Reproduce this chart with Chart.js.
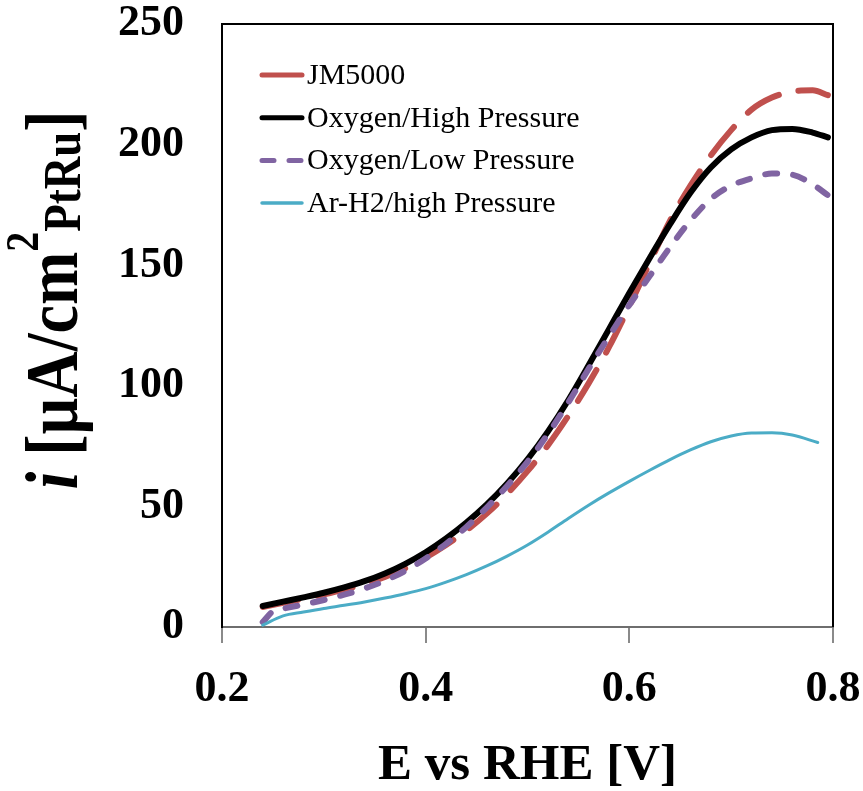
<!DOCTYPE html>
<html>
<head>
<meta charset="utf-8">
<script src="https://cdn.jsdelivr.net/npm/chart.js@4.4.1/dist/chart.umd.min.js"></script>
<style>
  html, body { margin: 0; padding: 0; background: #fff; }
</style>
</head>
<body>
<canvas id="myChart" width="863" height="791"></canvas>
<script>
// Potansiyel (V) - ortak x değerleri
const potential = [0.24, 0.26, 0.28, 0.30, 0.32, 0.34, 0.36, 0.38, 0.40, 0.42, 0.44, 0.46, 0.48, 0.50,
    0.52, 0.54, 0.56, 0.58, 0.60, 0.62, 0.64, 0.66, 0.68, 0.70, 0.72, 0.74, 0.76, 0.78, 0.795];
const jm5000 = [8.3, 10, 11.7, 13.5, 15.5, 17.9, 20.8, 24.4, 28.8, 34, 40, 47, 55.2, 64.6,
    75.3, 87.5, 101, 116, 133, 151, 168.5, 183, 195.5, 206, 214.5, 219.5, 222, 222.5, 220.5];
const oxygenHigh = [8.7, 10.5, 12.3, 14.2, 16.4, 19, 22.2, 26.2, 31, 36.7, 43.3, 50.8, 59.5, 69.5,
    81, 94, 108.5, 123.5, 138.5, 153, 167, 180, 190.5, 198, 203, 206, 206.5, 205, 203];

// Oxygen/Low eğrisi başta dik bir kanca yapıyor
const lowPotential = [0.24, 0.25, 0.26, 0.28, 0.30, 0.32, 0.34, 0.36, 0.38, 0.40, 0.42, 0.44, 0.46, 0.48, 0.50,
    0.52, 0.54, 0.56, 0.58, 0.60, 0.62, 0.64, 0.66, 0.68, 0.70, 0.72, 0.74, 0.76, 0.78, 0.795];
const oxygenLow = [2, 6.5, 7.6, 9.3, 11.2, 13.4, 16, 19.2, 23.3, 28.4, 34.5, 41.5, 49.5, 58.5, 68.5,
    80, 93, 107, 120.5, 133.5, 145.5, 157.5, 168.5, 177.5, 183, 186, 188, 187.5, 183.5, 179];

// Ar-H2 eğrisi biraz daha erken bitiyor
const arPotential = [0.24, 0.26, 0.28, 0.30, 0.32, 0.34, 0.36, 0.38, 0.40, 0.42, 0.44, 0.46, 0.48, 0.50,
    0.52, 0.54, 0.56, 0.58, 0.60, 0.62, 0.64, 0.66, 0.68, 0.70, 0.72, 0.74, 0.76, 0.785];
const arH2 = [0.8, 4.6, 6.2, 7.7, 9, 10.4, 12, 13.8, 15.9, 18.6, 21.7, 25.3, 29.4, 34,
    39.3, 45, 50.5, 55.6, 60.4, 65, 69.4, 73.4, 76.8, 79.2, 80.4, 80.5, 79.6, 76.5];

const labels = ['JM5000', 'Oxygen/High Pressure', 'Oxygen/Low Pressure', 'Ar-H2/high Pressure'];
const xTicks = [0.2, 0.4, 0.6, 0.8];
const yTicks = [0, 50, 100, 150, 200, 250];

const serif = "'Liberation Serif', 'Times New Roman', serif";

function toPoints(xs, ys) {
    return xs.map((x, i) => ({ x: x, y: ys[i] }));
}

// Çerçeve, lejant ve y ekseni başlığı
const extras = {
    id: 'extras',
    afterDraw(chart) {
        const ctx = chart.ctx;
        const a = chart.chartArea;
        ctx.save();

        // üst ve sağ çerçeve
        ctx.strokeStyle = '#000';
        ctx.lineWidth = 2;
        ctx.beginPath();
        ctx.moveTo(a.left, a.top);
        ctx.lineTo(a.right, a.top);
        ctx.lineTo(a.right, a.bottom);
        ctx.stroke();

        // lejant
        chart.data.datasets.forEach((ds, i) => {
            const y = a.top + 51 + i * 42.7;
            ctx.strokeStyle = ds.borderColor;
            ctx.lineWidth = ds.legendWidth;
            ctx.lineCap = 'round';
            ctx.setLineDash(ds.legendDash || []);
            ctx.beginPath();
            ctx.moveTo(a.left + 40, y);
            ctx.lineTo(a.left + 80, y);
            ctx.stroke();
            ctx.setLineDash([]);
            ctx.fillStyle = '#000';
            ctx.font = '30px ' + serif;
            ctx.textBaseline = 'middle';
            ctx.textAlign = 'left';
            ctx.fillText(ds.label, a.left + 85, y + 1);
        });

        // y ekseni başlığı: i [µA/cm²PtRu]
        const parts = [
            { t: 'i', f: 'italic bold 64px ' + serif, dy: 0 },
            { t: ' [µA/cm', f: 'bold 64px ' + serif, dy: 0 },
            { t: '2', f: 'bold 40px ' + serif, dy: -34 },
            { t: 'PtRu', f: 'bold 45px ' + serif, dy: 3 },
            { t: ']', f: 'bold 64px ' + serif, dy: 0 }
        ];
        let total = 0;
        parts.forEach(p => { ctx.font = p.f; p.w = ctx.measureText(p.t).width; total += p.w; });
        ctx.translate(77, 300);
        ctx.rotate(-Math.PI / 2);
        ctx.scale(1, 1.15);
        ctx.textAlign = 'left';
        ctx.textBaseline = 'alphabetic';
        ctx.fillStyle = '#000';
        let x = -total / 2;
        parts.forEach(p => {
            ctx.font = p.f;
            ctx.fillText(p.t, x, p.dy);
            x += p.w;
        });
        ctx.restore();
    }
};

const chart = new Chart(document.getElementById('myChart'), {
    type: 'scatter',
    data: {
        datasets: [{
            label: labels[0],
            data: toPoints(potential, jm5000),
            borderColor: '#C0504D',
            borderWidth: 6,
            borderDash: [36, 20],
            borderCapStyle: 'round',
            legendWidth: 5,
            legendDash: [],
            order: 4
        }, {
            label: labels[1],
            data: toPoints(potential, oxygenHigh),
            borderColor: '#000000',
            borderWidth: 6,
            borderCapStyle: 'round',
            legendWidth: 5,
            order: 3
        }, {
            label: labels[2],
            data: toPoints(lowPotential, oxygenLow),
            borderColor: '#8064A2',
            borderWidth: 6,
            borderDash: [12, 16],
            borderCapStyle: 'round',
            legendWidth: 5,
            legendDash: [12, 15],
            order: 2
        }, {
            label: labels[3],
            data: toPoints(arPotential, arH2),
            borderColor: '#4BACC6',
            borderWidth: 3,
            borderCapStyle: 'round',
            legendWidth: 3.5,
            order: 1
        }]
    },
    options: {
        responsive: false,
        animation: false,
        devicePixelRatio: 1,
        showLine: true,
        elements: {
            point: { radius: 0 },
            line: { cubicInterpolationMode: 'monotone', fill: false }
        },
        layout: { padding: { top: 24, right: 30, left: 0, bottom: 0 } },
        plugins: {
            legend: { display: false },
            tooltip: { enabled: false }
        },
        scales: {
            x: {
                type: 'linear',
                min: 0.2,
                max: 0.8,
                afterFit: s => { s.height = 164; s.paddingLeft = 0; s.paddingRight = 0; },
                afterBuildTicks: s => { s.ticks = xTicks.map(v => ({ value: v })); },
                grid: { drawOnChartArea: false, drawTicks: true, tickLength: 16, color: '#8a8a8a', lineWidth: 2 },
                border: { color: '#6e6e6e', width: 2 },
                ticks: {
                    color: '#000',
                    padding: 20,
                    maxRotation: 0,
                    font: { family: serif, size: 44, weight: 'bold' },
                    callback: v => v.toFixed(1)
                },
                title: {
                    display: true,
                    text: 'E vs RHE [V]',
                    color: '#000',
                    padding: { top: 0, bottom: 0 },
                    font: { family: serif, size: 51, weight: 'bold', lineHeight: 1.0 }
                }
            },
            y: {
                min: 0,
                max: 250,
                afterFit: s => { s.width = 222; s.paddingTop = 0; s.paddingBottom = 0; },
                afterBuildTicks: s => { s.ticks = yTicks.map(v => ({ value: v })); },
                grid: { display: false, drawTicks: false },
                border: { color: '#000', width: 2 },
                ticks: {
                    color: '#000',
                    padding: 38,
                    font: { family: serif, size: 44, weight: 'bold' }
                }
            }
        }
    },
    plugins: [extras]
});
</script>
</body>
</html>
